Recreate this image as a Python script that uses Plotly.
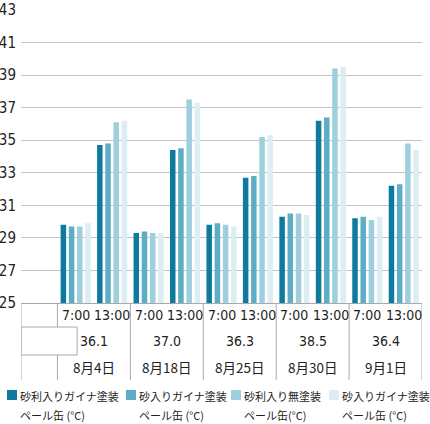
import plotly.graph_objects as go

#data
dates = ['8月4日', '8月18日', '8月25日', '8月30日', '9月1日']
times = ['7:00', '13:00']
max_temps = ['36.1', '37.0', '36.3', '38.5', '36.4']

series_names = ['砂利入りガイナ塗装', '砂入りガイナ塗装', '砂利入り無塗装', '砂入りガイナ塗装']
series_units = ['ペール缶 (°C)', 'ペール缶 (°C)', 'ペール缶(°C)', 'ペール缶 (°C)']
series_colors = ['#0e7b9e', '#5eadc6', '#9dcfdc', '#dcedf3']

#one value per (date, time) in order 8/4 7:00, 8/4 13:00, 8/18 7:00 ...
gravel_gaina = [29.8, 34.7, 29.3, 34.4, 29.8, 32.7, 30.3, 36.2, 30.2, 32.2]
sand_gaina = [29.7, 34.8, 29.4, 34.5, 29.9, 32.8, 30.5, 36.4, 30.3, 32.3]
gravel_plain = [29.7, 36.1, 29.3, 37.5, 29.8, 35.2, 30.5, 39.4, 30.1, 34.8]
sand_gaina_2 = [29.9, 36.2, 29.3, 37.3, 29.7, 35.3, 30.4, 39.5, 30.3, 34.4]
series_values = [gravel_gaina, sand_gaina, gravel_plain, sand_gaina_2]

#category slots: slot 0 is empty, then date/time pairs
slot_x = [1 + 2 * d + t for d in range(len(dates)) for t in range(len(times))]

fig = go.Figure()
for name, unit, color, vals in zip(series_names, series_units, series_colors, series_values):
    fig.add_trace(go.Bar(x=slot_x, y=vals, name=name + ' ' + unit, marker=dict(color=color, line=dict(width=0)),
                         showlegend=False))

#pixel layout helpers (plot area bottom at 303px, height 293px, left 21px, width 401px)
PLOT_BOTTOM = 303
PLOT_H = 293
PLOT_L = 21
PLOT_W = 401
def py(p):
    return (PLOT_BOTTOM - p) / PLOT_H
def px_(p):
    return (p - PLOT_L) / PLOT_W

num_font = 'DejaVu Sans Condensed, Liberation Sans Narrow, Roboto, sans-serif'
jp_font = 'Noto Sans CJK JP, sans-serif'
line_col = '#a9a9a9'

shapes = []
annotations = []
row1_top, row1_bot, row2_bot, row3_bot = 303, 327, 355, 380

#full height separators between dates
for xv in [2.5, 4.5, 6.5, 8.5, 10.5]:
    shapes.append(dict(type='line', xref='x', yref='paper', x0=xv, x1=xv, y0=py(row1_top), y1=py(row3_bot), line=dict(color=line_col, width=1)))
#left edge
shapes.append(dict(type='line', xref='x', yref='paper', x0=-0.5, x1=-0.5, y0=py(row1_top), y1=py(row3_bot), line=dict(color=line_col, width=1)))
#line after empty slot, broken by the box in middle row
for y0, y1 in [(row1_top, row1_bot), (row2_bot, row3_bot)]:
    shapes.append(dict(type='line', xref='x', yref='paper', x0=0.5, x1=0.5, y0=py(y0), y1=py(y1), line=dict(color=line_col, width=1)))
shapes.append(dict(type='rect', xref='x', yref='paper', x0=-0.5, x1=1.04, y0=py(row1_bot), y1=py(row2_bot), line=dict(color=line_col, width=1), fillcolor='rgba(0,0,0,0)'))

for i, xv in enumerate(slot_x):
    annotations.append(dict(x=xv, y=py(315), xref='x', yref='paper', text=times[i % 2], showarrow=False,
                            xanchor='center', yanchor='middle',
                            font=dict(family=num_font, size=14, color='#222')))
for d in range(len(dates)):
    xc = 1.5 + 2 * d
    annotations.append(dict(x=xc, y=py(341), xref='x', yref='paper', text=max_temps[d], showarrow=False,
                            xanchor='center', yanchor='middle',
                            font=dict(family=num_font, size=14, color='#222')))
    annotations.append(dict(x=xc, y=py(367), xref='x', yref='paper', text=dates[d], showarrow=False,
                            xanchor='center', yanchor='middle',
                            font=dict(family=jp_font, size=13.5, color='#222')))

#legend drawn by hand so the two-line labels sit like the original
legend_x = [7, 126, 231, 329]
for lx, name, unit, color in zip(legend_x, series_names, series_units, series_colors):
    shapes.append(dict(type='rect', xref='paper', yref='paper', x0=px_(lx), x1=px_(lx + 10),
                       y0=py(400), y1=py(390), fillcolor=color, line=dict(width=0)))
    annotations.append(dict(x=px_(lx + 11), y=py(396), xref='paper', yref='paper', text=name, showarrow=False,
                            xanchor='left', yanchor='middle', font=dict(family=jp_font, size=11, color='#222')))
    annotations.append(dict(x=px_(lx + 11), y=py(415), xref='paper', yref='paper', text=unit, showarrow=False,
                            xanchor='left', yanchor='middle', font=dict(family=jp_font, size=11, color='#222')))

fig.update_layout(
    width=430, height=424,
    margin=dict(l=PLOT_L, r=430 - PLOT_L - PLOT_W, t=10, b=424 - PLOT_BOTTOM),
    plot_bgcolor='white', paper_bgcolor='white',
    barmode='group', bargap=0.1, bargroupgap=0.33,
    shapes=shapes, annotations=annotations,
)
fig.update_xaxes(range=[-0.5, 10.5], showticklabels=False, showgrid=False, zeroline=False, automargin=False,
                 showline=True, linecolor=line_col, linewidth=1, ticks='')
fig.update_yaxes(range=[25, 43], dtick=2, tick0=25, showgrid=True, gridcolor='#c4c4c4', gridwidth=1.2,
                 zeroline=False, ticks='', ticklabelstandoff=4, automargin=False,
                 tickfont=dict(family=num_font, size=15, color='#222'))

#page body has a default margin, remove it so the figure sits at the window corner
fig.write_html("out.html", config={'displayModeBar': False},
               post_script="document.body.style.margin='0';")
